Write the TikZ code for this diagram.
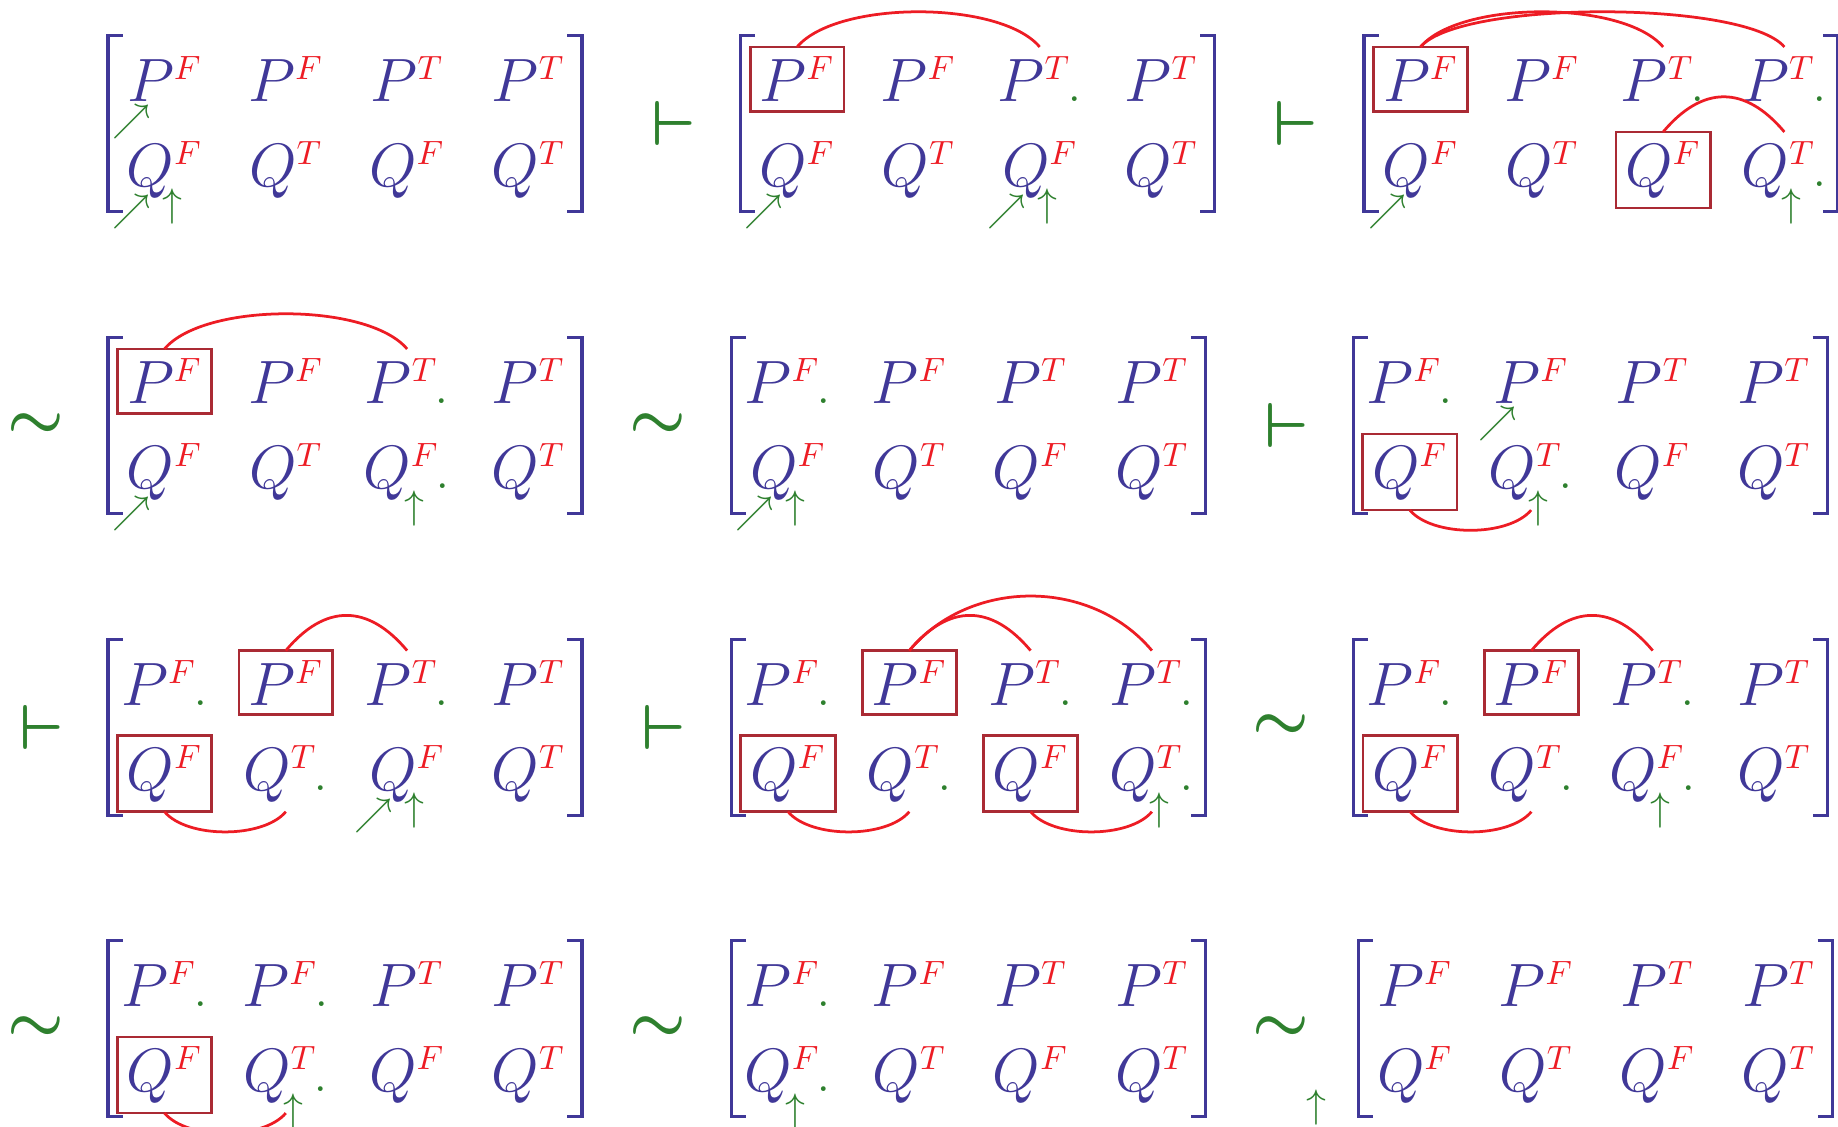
\RequirePackage{fix-cm}
\documentclass[tikz,border=0pt]{standalone}
\usepackage{amsmath, amssymb}
\usetikzlibrary{calc}
\DeclareMathSizes{20}{20}{11}{8}
\definecolor{matblue}{RGB}{64,56,152}
\definecolor{supred}{RGB}{237,28,36}
\definecolor{boxred}{RGB}{170,42,52}
\definecolor{markgreen}{RGB}{46,128,46}
\newcommand{\greendot}{{\kern-1pt\fontsize{19}{20}\selectfont\textcolor{markgreen}{.}}}
\tikzset{
    entry_node/.style={anchor=base, inner sep=2.9pt, font=\fontsize{20}{24}\selectfont, text=matblue},
    dot_entry/.style={execute at end node=\greendot},
    box_line/.style={draw=boxred, line width=0.9pt},
    bracket_line/.style={draw=matblue, line width=1pt},
    arc_line/.style={draw=supred, line width=0.9pt},
    top_arc/.style={out=50, in=130, distance=20pt},
    bottom_arc/.style={out=-50, in=-130, distance=11.5pt},
    rel_node/.style={font=\huge, text=markgreen, inner sep=0pt},
    ne_node/.style={font=\fontsize{12.5}{15}\selectfont, text=markgreen, inner sep=0pt},
    up_node/.style={font=\fontsize{13}{15}\selectfont, text=markgreen, inner sep=0pt},
    % entries that carry a green dot
    b-p3/.style=dot_entry,
    c-p3/.style=dot_entry, c-p4/.style=dot_entry, c-q4/.style=dot_entry,
    d-p3/.style=dot_entry, d-q3/.style=dot_entry,
    e-p1/.style=dot_entry,
    f-p1/.style=dot_entry, f-q2/.style=dot_entry,
    g-p1/.style=dot_entry, g-p3/.style=dot_entry, g-q2/.style=dot_entry,
    h-p1/.style=dot_entry, h-p3/.style=dot_entry, h-p4/.style=dot_entry, h-q2/.style=dot_entry, h-q4/.style=dot_entry,
    i-p1/.style=dot_entry, i-p3/.style=dot_entry, i-q2/.style=dot_entry, i-q3/.style=dot_entry,
    j-p1/.style=dot_entry, j-p2/.style=dot_entry, j-q2/.style=dot_entry,
    k-p1/.style=dot_entry, k-q1/.style=dot_entry
}

\begin{document}
\begin{tikzpicture}[x=0.3266pt, y=0.3266pt]
    \useasboundingbox (0,0) rectangle (1838,-1127);
    % the twelve matrices
    \foreach \m/\mx/\my in {a/108/101.7, b/740.6/101.7, c/1364/101.7,
                            d/108/403.7, e/731.5/403.7, f/1353.3/403.7,
                            g/108/705.3, h/731.5/705.3, i/1353.6/705.3,
                            j/108/1006.7, k/731.5/1006.7, l/1358.2/1006.7} {
        \draw[bracket_line] (\mx+14.6,-\my+66) -- (\mx,-\my+66) -- (\mx,-\my-110) -- (\mx+14.6,-\my-110);
        \draw[bracket_line] (\mx+459.4,-\my+66) -- (\mx+474,-\my+66) -- (\mx+474,-\my-110) -- (\mx+459.4,-\my-110);
        \foreach \s [count=\j] in {F,F,T,T}
            \node[entry_node, \m-p\j/.try] (\m-p\j) at (\mx+121.3*\j-64.8,-\my) {$P^{\color{supred}\s}$};
        \foreach \s [count=\j] in {F,T,F,T}
            \node[entry_node, \m-q\j/.try] (\m-q\j) at (\mx+121.3*\j-64.8,-\my-85) {$Q^{\color{supred}\s}$};
    }
    % turnstiles and tildes
    \foreach \n/\x/\y/\rl in {r-b/674/123.7/\vdash, r-c/1296/123.7/\vdash,
                              r-d/35.6/425.7/\sim, r-e/658/425.7/\sim, r-f/1286.4/425.7/\vdash,
                              r-g/41.5/727.3/\vdash, r-h/663.5/727.3/\vdash, r-i/1280.7/727.3/\sim,
                              r-j/35.6/1028.7/\sim, r-k/658/1028.7/\sim, r-l/1280.7/1028.7/\sim}
        \node[rel_node] (\n) at (\x,-\y) {$\boldsymbol{\rl}$};
    % boxed entries
    \foreach \n in {b-p1, c-p1, c-q3, d-p1, f-q1, g-p2, g-q1, h-p2, h-q1, h-q3, i-p2, i-q1, j-q1}
        \draw[box_line] (\n.south west) rectangle (\n.north east);
    % red arcs
    \foreach \src/\dst in {b-p1/b-p3, c-p1/c-p3, c-p1/c-p4, c-q3/c-q4, d-p1/d-p3, g-p2/g-p3, h-p2/h-p3, i-p2/i-p3}
        \draw[arc_line] (\src.north) to[top_arc] (\dst.north);
    \draw[arc_line] (h-p2.north) to[top_arc, distance=31pt] (h-p4.north);
    \foreach \src/\dst in {f-q1/f-q2, g-q1/g-q2, h-q1/h-q2, h-q3/h-q4, i-q1/i-q2, j-q1/j-q2}
        \draw[arc_line] (\src.south) to[bottom_arc] (\dst.south);
    % green arrows
    \foreach \n in {a-p1, f-p2}
        \node[ne_node] (\n-ne) at ($(\n.base)+(-33,-20)$) {$\nearrow$};
    \foreach \n in {a-q1, b-q1, b-q3, c-q1, d-q1, e-q1, g-q3}
        \node[ne_node] (\n-ne) at ($(\n.base)+(-33,-25.5)$) {$\nearrow$};
    \foreach \n in {a-q1, b-q3, c-q4, d-q3, e-q1, f-q2, g-q3, h-q4, i-q3, j-q2, k-q1}
        \node[up_node] (\n-up) at ($(\n.base)+(7.5,-20)$) {$\uparrow$};
    \node[up_node] (l-up) at (1316.3,-1108) {$\uparrow$};
\end{tikzpicture}
\end{document}
